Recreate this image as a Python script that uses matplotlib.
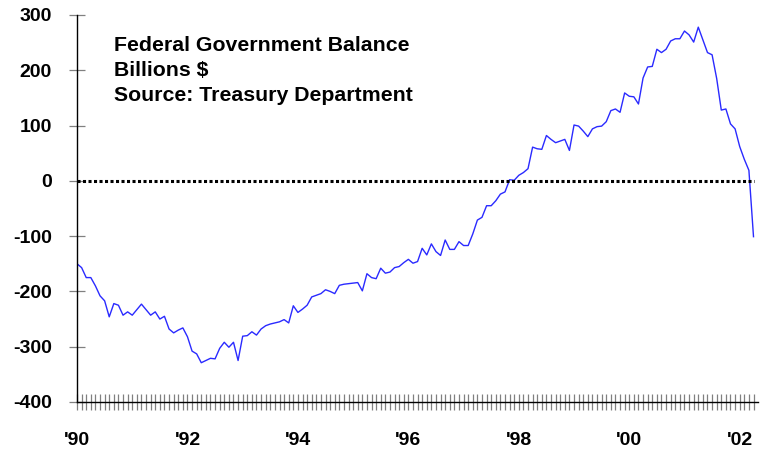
import numpy as np
import matplotlib
matplotlib.use('Agg')
import matplotlib.pyplot as plt

plt.rcParams['font.family'] = ['Liberation Sans', 'DejaVu Sans']
plt.rcParams['axes.unicode_minus'] = False

# Monthly federal government balance, Jan 1990 - Apr 2002 (billions $)
balance = [
    -150, -157, -175, -175, -190, -208, -217, -246, -222, -225, -243, -237,   # 1990
    -243, -233, -223, -233, -243, -237, -250, -245, -268, -275, -270, -266,   # 1991
    -282, -308, -313, -329, -325, -321, -322, -303, -292, -301, -292, -325,   # 1992
    -281, -280, -273, -279, -268, -262, -259, -257, -255, -251, -257, -226,   # 1993
    -238, -232, -225, -210, -207, -204, -197, -200, -204, -189, -187, -186,   # 1994
    -185, -184, -199, -168, -175, -177, -158, -167, -165, -157, -155, -148,   # 1995
    -142, -149, -146, -122, -134, -114, -128, -135, -107, -124, -124, -110,   # 1996
    -117, -117, -96, -71, -66, -45, -45, -36, -24, -20, 2, 1,                 # 1997
    10, 15, 22, 61, 58, 57, 82, 75, 69, 72, 75, 55,                           # 1998
    101, 99, 90, 80, 94, 98, 99, 107, 127, 130, 124, 159,                     # 1999
    153, 152, 139, 186, 206, 207, 238, 232, 238, 253, 257, 257,               # 2000
    271, 264, 251, 278, 255, 232, 228, 185, 128, 130, 103, 94,                # 2001
    62, 39, 19, -101,                                                         # 2002
]
year_labels = ["'90", "'92", "'94", "'96", "'98", "'00", "'02"]
title_text = "Federal Government Balance\nBillions $\nSource: Treasury Department"

months = np.arange(len(balance))

fig = plt.figure(figsize=(7.61, 4.57), dpi=100)
ax = fig.add_axes([0.1012, 0.1204, 0.895, 0.8468])

ax.plot(months, balance, color='#2a2aff', lw=1.0)
ax.plot([0, months[-1]], [0, 0], color='black', lw=2.2, linestyle=(0, (1, 0.8)))

ax.set_xlim(0, 148)
ax.set_ylim(-400, 300)
ax.set_yticks(np.arange(-400, 301, 100))

# monthly ticks, labels every two years
xt = np.arange(0, 148)
xl = [''] * len(xt)
for i, lab in enumerate(year_labels):
    xl[i * 24] = lab
ax.set_xticks(xt)
ax.set_xticklabels(xl)

for s in ['top', 'right']:
    ax.spines[s].set_visible(False)
for s in ['left', 'bottom']:
    ax.spines[s].set_color('black')
    ax.spines[s].set_linewidth(1.0)

ax.tick_params(axis='x', direction='inout', length=11.5, width=0.9, color='#808080',
               pad=16, labelsize=14)
ax.tick_params(axis='y', direction='inout', length=12, width=0.9, color='#808080',
               pad=12, labelsize=14)
for lab in ax.get_xticklabels() + ax.get_yticklabels():
    lab.set_fontweight('bold')

ax.text(0.054, 0.945, title_text, transform=ax.transAxes, fontsize=15.3,
        fontweight='bold', va='top', ha='left', linespacing=1.4)

fig.savefig('out.png', dpi=100)
